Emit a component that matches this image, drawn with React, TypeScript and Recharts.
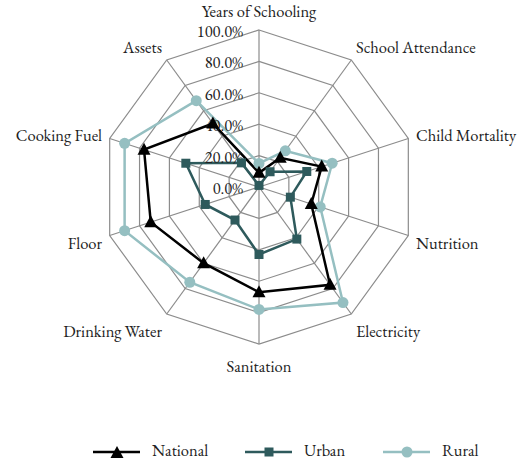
import { RadarChart, Radar, PolarGrid, PolarAngleAxis, PolarRadiusAxis } from 'recharts';

const categories = [
    'Years of Schooling',
    'School Attendance',
    'Child Mortality',
    'Nutrition',
    'Electricity',
    'Sanitation',
    'Drinking Water',
    'Floor',
    'Cooking Fuel',
    'Assets',
];
const national = [9, 23, 42, 35, 77, 67, 60, 72.5, 77, 50];
const urban = [1, 12, 32, 21, 41, 43, 26, 36, 49, 19];
const rural = [15, 28.5, 49, 41, 91, 78, 75, 90, 90, 68];
const radiusTicks = [0, 20, 40, 60, 80, 100];

const NATIONAL = '#000000';
const URBAN = '#2e5a5c';
const RURAL = '#95bfc1';
const FONT = '"EB Garamond", "Liberation Serif", serif';
const FS = 16.5;
const CX = 259;
const CY = 187;
const R = 157;

const data = categories.map((name, i) => ({
    name,
    national: national[i],
    urban: urban[i],
    rural: rural[i],
}));

const Triangle = ({ cx, cy, fill }: any) => (
    <path d={`M${cx},${cy - 7} L${cx + 6.5},${cy + 5} L${cx - 6.5},${cy + 5} Z`} fill={fill} />
);
const Square = ({ cx, cy, fill }: any) => <rect x={cx - 4.5} y={cy - 4.5} width={9} height={9} fill={fill} />;
const Circle = ({ cx, cy, fill }: any) => <circle cx={cx} cy={cy} r={5.5} fill={fill} />;

const AngleTick = ({ x, y, payload }: any) => {
    const dx = x - CX;
    const dy = y - CY;
    const r = Math.sqrt(dx * dx + dy * dy);
    let anchor: 'start' | 'middle' | 'end' = 'middle';
    if (dx > 5) anchor = 'start';
    else if (dx < -5) anchor = 'end';
    let oy = 2 + 10 * (dy / r);
    if (Math.abs(dx) < 5) oy = dy < 0 ? -11 : 14;
    return (
        <text
            x={x}
            y={y + oy}
            textAnchor={anchor}
            dominantBaseline="central"
            fill="#222"
            style={{ fontFamily: FONT, fontSize: FS }}
        >
            {payload.value}
        </text>
    );
};

const RadiusTick = ({ x, y, payload }: any) => (
    <text
        x={x - 16}
        y={y + 1}
        textAnchor="end"
        dominantBaseline="central"
        fill="#222"
        style={{ fontFamily: FONT, fontSize: FS }}
    >
        {payload.value.toFixed(1)}%
    </text>
);

const LegendItem = ({ x, label, color, shape }: any) => (
    <g>
        <line x1={x} x2={x + 47} y1={452} y2={452} stroke={color} strokeWidth={2.5} />
        {shape === 'tri' && <Triangle cx={x + 24} cy={453} fill={color} />}
        {shape === 'sq' && <Square cx={x + 24} cy={452} fill={color} />}
        {shape === 'ci' && <Circle cx={x + 24} cy={452} fill={color} />}
        <text x={x + 59} y={450} dominantBaseline="central" fill="#222" style={{ fontFamily: FONT, fontSize: FS }}>
            {label}
        </text>
    </g>
);

const App = () => {
    return (
        <div style={{ position: 'absolute', left: 0, top: 0, width: 521, height: 461, background: '#fff' }}>
            <RadarChart width={521} height={461} data={data} cx={CX} cy={CY} outerRadius={R} margin={{ top: 0, right: 0, bottom: 0, left: 0 }}>
                <PolarGrid gridType="polygon" stroke="#8c8c8c" strokeWidth={1.2} />
                <PolarAngleAxis dataKey="name" tick={<AngleTick />} tickLine={false} />
                <PolarRadiusAxis
                    angle={90}
                    domain={[0, 100]}
                    ticks={radiusTicks}
                    tickCount={6}
                    axisLine={false}
                    tickLine={false}
                    tick={<RadiusTick />}
                />
                <Radar
                    dataKey="urban"
                    stroke={URBAN}
                    strokeWidth={2.5}
                    fill="none"
                    fillOpacity={0}
                    dot={<Square fill={URBAN} />}
                    isAnimationActive={false}
                />
                <Radar
                    dataKey="rural"
                    stroke={RURAL}
                    strokeWidth={2.5}
                    fill="none"
                    fillOpacity={0}
                    dot={<Circle fill={RURAL} />}
                    isAnimationActive={false}
                />
                <Radar
                    dataKey="national"
                    stroke={NATIONAL}
                    strokeWidth={2.5}
                    fill="none"
                    fillOpacity={0}
                    dot={<Triangle fill={NATIONAL} />}
                    isAnimationActive={false}
                />
                <LegendItem x={93} label="National" color={NATIONAL} shape="tri" />
                <LegendItem x={245} label="Urban" color={URBAN} shape="sq" />
                <LegendItem x={383} label="Rural" color={RURAL} shape="ci" />
            </RadarChart>
        </div>
    );
};

export default App;
